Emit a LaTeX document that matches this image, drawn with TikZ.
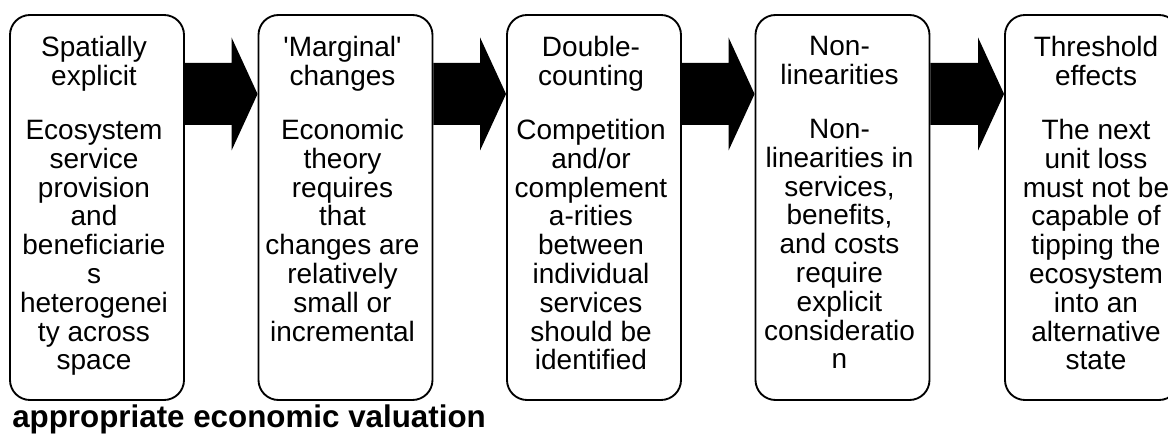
\documentclass[tikz,border=0pt]{standalone}
\usepackage{fontspec}
\setmainfont{Liberation Sans}
\usetikzlibrary{calc}

\tikzset{
  stagebox/.style={draw, line width=1.4pt, rounded corners=15pt, minimum width=130.5pt, minimum height=288.75pt, inner sep=0pt},
  stagetext/.style={anchor=north, align=center, inner sep=0pt, font=\fontsize{21}{21.6}\selectfont},
  blockarrow/.style={fill=black}
}

\begin{document}
\begin{tikzpicture}[x=0.75pt,y=0.75pt,yscale=-1,xscale=1]
\useasboundingbox (0,0) rectangle (1168,434);

%Boxes
\node[stagebox] (b1) at (97,207.5) {};
\node[stagebox] (b2) at (345.5,207.5) {};
\node[stagebox] (b3) at (594,207.5) {};
\node[stagebox] (b4) at (842.5,207.5) {};
\node[stagebox] (b5) at (1092,207.5) {};

% Box texts
\node[stagetext] (t1) at ($(b1.north)+(-3,22)$) {Spatially\\explicit\\[19pt]Ecosystem\\service\\provision\\and\\beneficiarie\\s\\heterogenei\\ty across\\space};
\node[stagetext] (t2) at ($(b2.north)+(-3,22)$) {\textquotesingle Marginal\textquotesingle\\changes\\[19pt]Economic\\theory\\requires\\that\\changes are\\relatively\\small or\\incremental};
\node[stagetext] (t3) at ($(b3.north)+(-3,22)$) {Double-\\counting\\[19pt]Competition\\and/or\\complement\\a-rities\\between\\individual\\services\\should be\\identified};
\node[stagetext] (t4) at ($(b4.north)+(-3,22)$) {Non-\\linearities\\[19pt]Non-\\linearities in\\services,\\benefits,\\and costs\\require\\explicit\\consideratio\\n};
\node[stagetext] (t5) at ($(b5.north)+(4,22)$) {Threshold\\effects\\[19pt]The next\\unit loss\\must not be\\capable of\\tipping the\\ecosystem\\into an\\alternative\\state};

%Block arrows
\foreach \from/\to in {b1/b2,b2/b3,b3/b4,b4/b5}{
  \path (\from.east |- 0,94) coordinate (tail) (\to.west |- 0,94) coordinate (tip);
  \fill[blockarrow] ($(tail)+(0,-31)$) -- ($(tip)+(-26,-31)$) -- ($(tip)+(-26,-56.5)$) -- (tip) -- ($(tip)+(-26,56.5)$) -- ($(tip)+(-26,31)$) -- ($(tail)+(0,31)$) -- cycle;
}

% Caption
\node[anchor=base west, inner sep=0pt, font=\fontsize{23.5}{27}\selectfont\bfseries] (caption) at (12,428) {appropriate economic valuation};

\end{tikzpicture}
\end{document}
